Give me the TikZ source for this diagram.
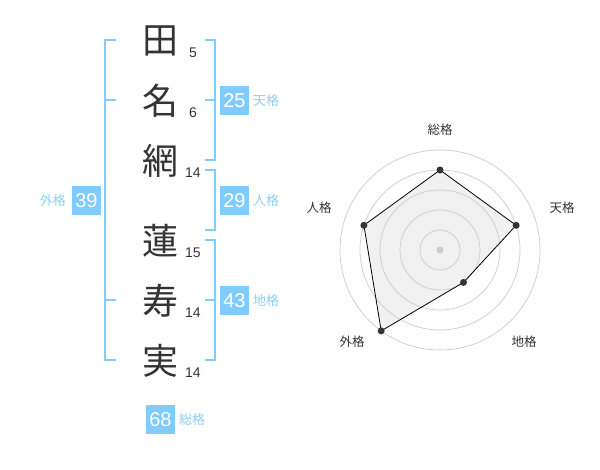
\documentclass[tikz,border=0pt]{standalone}
\usepackage{fontspec}
\setmainfont{Liberation Sans}
\newfontfamily\jp{Noto Sans CJK JP}
\definecolor{kblue}{HTML}{80CCFF}
\definecolor{klab}{HTML}{8CCFF5}
\definecolor{ktxt}{HTML}{333333}
\definecolor{kgrid}{HTML}{CCCCCC}
\definecolor{kfill}{HTML}{F1F1F1}
\begin{document}
\begin{tikzpicture}[x=1pt,y=-1pt,
  kanji/.style={font=\jp\fontsize{36}{36}\selectfont,text=ktxt,inner sep=0pt},
  stroke/.style={font=\fontsize{14}{14}\selectfont,text=ktxt,inner sep=0pt},
  numbox/.style={fill=kblue,text=white,minimum width=29pt,minimum height=29pt,inner sep=0pt,font=\fontsize{20}{20}\selectfont},
  kaku/.style={font=\jp\fontsize{13}{13}\selectfont,text=klab,inner sep=0pt},
  bracket/.style={draw=kblue,line width=2pt},
  axlab/.style={font=\jp\fontsize{12.5}{12.5}\selectfont,text=ktxt,inner sep=0pt},
  ring/.style={draw=kgrid,line width=0.7pt},
  dot/.style={circle,fill=ktxt,inner sep=0pt,minimum size=7pt}]
\useasboundingbox (0,0) rectangle (600,470);
% kanji
\node[kanji] (k1) at (160,41) {田};
\node[kanji] (k2) at (160,101) {名};
\node[kanji] (k3) at (160,161) {網};
\node[kanji] (k4) at (160,241) {蓮};
\node[kanji] (k5) at (160,301) {寿};
\node[kanji] (k6) at (160,361) {実};
% stroke counts
\node[stroke] (s1) at (193,52.5) {5};
\node[stroke] (s2) at (193,112.5) {6};
\node[stroke] (s3) at (193,172.5) {14};
\node[stroke] (s4) at (193,252.5) {15};
\node[stroke] (s5) at (193,312.5) {14};
\node[stroke] (s6) at (193,372.5) {14};
% brackets
\draw[bracket] (205,40) -- (215,40) -- (215,160) -- (205,160);
\draw[bracket] (205,100) -- (215,100);
\draw[bracket] (205,170) -- (215,170) -- (215,230) -- (205,230);
\draw[bracket] (205,240) -- (215,240) -- (215,360) -- (205,360);
\draw[bracket] (205,300) -- (215,300);
\draw[bracket] (116,40) -- (105,40) -- (105,360) -- (116,360);
\draw[bracket] (105,100) -- (116,100);
\draw[bracket] (105,300) -- (116,300);
% boxes
\node[numbox] (b25) at (234.5,100.5) {25};
\node[kaku,anchor=west] (l25) at (253,101) {天格};
\node[numbox] (b29) at (234.5,200.5) {29};
\node[kaku,anchor=west] (l29) at (253,201) {人格};
\node[numbox] (b43) at (234.5,300.5) {43};
\node[kaku,anchor=west] (l43) at (253,301) {地格};
\node[numbox] (b39) at (86.5,200.5) {39};
\node[kaku,anchor=east] (l39) at (66,201) {外格};
\node[numbox] (b68) at (160.5,419.5) {68};
\node[kaku,anchor=west] (l68) at (179,420) {総格};
% radar
\coordinate (c) at (440,250);
\coordinate (pS) at (440,170);
\coordinate (pT) at (516.1,225.3);
\coordinate (pC) at (463.5,282.4);
\coordinate (pG) at (381.2,330.9);
\coordinate (pJ) at (363.9,225.3);
\fill[kfill] (pS) -- (pT) -- (pC) -- (pG) -- (pJ) -- cycle;
\foreach \r in {20,40,60,80,100} \draw[ring] (c) circle[radius=\r];
\draw[black,line width=0.8pt] (pS) -- (pT) -- (pC) -- (pG) -- (pJ) -- cycle;
\node[circle,fill=kgrid,inner sep=0pt,minimum size=7pt] (cd) at (c) {};
\node[dot] (dS) at (pS) {};
\node[dot] (dT) at (pT) {};
\node[dot] (dC) at (pC) {};
\node[dot] (dG) at (pG) {};
\node[dot] (dJ) at (pJ) {};
\node[axlab] (aS) at (440,130) {総格};
\node[axlab] (aT) at (562,208) {天格};
\node[axlab] (aC) at (524,342) {地格};
\node[axlab] (aG) at (352,342) {外格};
\node[axlab] (aJ) at (319,208) {人格};
\end{tikzpicture}
\end{document}
